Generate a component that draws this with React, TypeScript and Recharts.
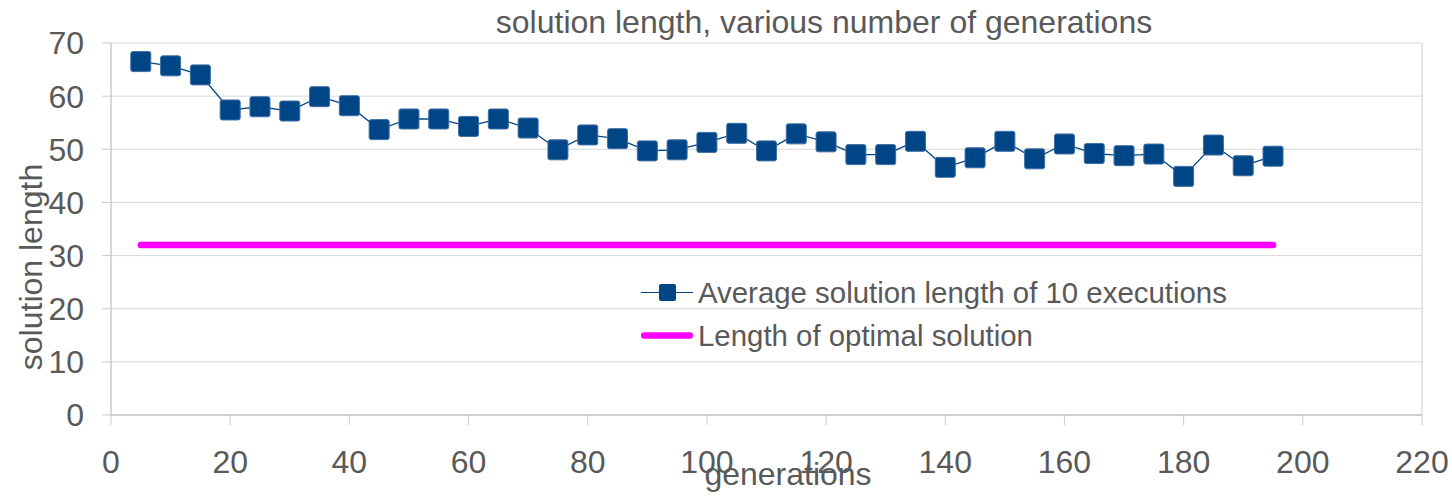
import React from "react";
import { CartesianGrid, Legend, Line, LineChart, ReferenceLine, XAxis, YAxis } from "recharts";

const generations = [
  5, 10, 15, 20, 25, 30, 35, 40, 45, 50, 55, 60, 65, 70, 75, 80, 85, 90, 95, 100,
  105, 110, 115, 120, 125, 130, 135, 140, 145, 150, 155, 160, 165, 170, 175, 180, 185, 190, 195,
];
const avgLength = [
  66.5, 65.7, 64.0, 57.4, 58.0, 57.2, 59.9, 58.2, 53.7, 55.7, 55.7, 54.3, 55.7, 54.0, 49.9, 52.7, 52.0, 49.7, 49.9, 51.3,
  53.0, 49.7, 52.9, 51.4, 49.0, 49.0, 51.5, 46.6, 48.4, 51.5, 48.2, 51.0, 49.2, 48.8, 49.1, 44.9, 50.8, 46.9, 48.7,
];
const optimalX = [5, 195];
const optimalLength = [32, 32];
const xTicks = [0, 20, 40, 60, 80, 100, 120, 140, 160, 180, 200, 220];
const yTicks = [0, 10, 20, 30, 40, 50, 60, 70];
const seriesNames = ["Average solution length of 10 executions", "Length of optimal solution"];

const avgData = generations.map((x, i) => ({ x, y: avgLength[i] }));
const optData = optimalX.map((x, i) => ({ x, y: optimalLength[i] }));

const TEXT = "#595959";
const BLUE = "#004586";
const PINK = "#ff00ff";
const FONT = "'Liberation Sans', Arial, sans-serif";

function SquareDot(props: any) {
  const { cx, cy } = props;
  if (cx == null || cy == null) return null;
  return <rect x={cx - 10} y={cy - 10} width={20} height={20} rx={2} fill={BLUE} stroke="#3d6fa3" strokeWidth={1} />;
}

function LegendBox() {
  const row: React.CSSProperties = { display: "flex", alignItems: "center", height: 43 };
  const label: React.CSSProperties = { fontFamily: FONT, fontSize: 29.4, color: TEXT, marginLeft: 5, whiteSpace: "nowrap" };
  return (
    <div>
      <div style={row}>
        <svg width={52} height={43}>
          <line x1={0} y1={21.5} x2={52} y2={21.5} stroke={BLUE} strokeWidth={1.2} />
          <rect x={18} y={13} width={17} height={17} rx={2} fill={BLUE} />
        </svg>
        <span style={label}>{seriesNames[0]}</span>
      </div>
      <div style={row}>
        <svg width={52} height={43}>
          <line x1={3} y1={21.5} x2={49} y2={21.5} stroke={PINK} strokeWidth={6.5} strokeLinecap="round" />
        </svg>
        <span style={label}>{seriesNames[1]}</span>
      </div>
    </div>
  );
}

export default function App() {
  return (
    <div style={{ position: "absolute", left: 0, top: 0, width: 1452, height: 497, background: "#fff" }}>
      <LineChart width={1452} height={497} margin={{ top: 43, right: 30, bottom: 0, left: 0 }}>
        <CartesianGrid horizontal vertical={false} stroke="#d9d9d9" />
        <XAxis
          type="number"
          dataKey="x"
          domain={[0, 220]}
          ticks={xTicks}
          height={82}
          tickSize={10}
          tickMargin={25}
          axisLine={{ stroke: "#b3b3b3" }}
          tickLine={{ stroke: "#cccccc" }}
          tick={{ fill: TEXT, fontSize: 32, fontFamily: FONT }}
          label={{
            content: () => (
              <text x={788} y={485} textAnchor="middle" fill={TEXT} fontSize={32} fontFamily={FONT}>
                generations
              </text>
            ),
          }}
        />
        <YAxis
          type="number"
          domain={[0, 70]}
          ticks={yTicks}
          width={111}
          tickSize={9}
          tickMargin={18}
          axisLine={{ stroke: "#b3b3b3" }}
          tickLine={{ stroke: "#cccccc" }}
          tick={{ fill: TEXT, fontSize: 32, fontFamily: FONT }}
          label={{
            content: () => (
              <text
                x={42}
                y={267}
                transform="rotate(-90, 42, 267)"
                textAnchor="middle"
                fill={TEXT}
                fontSize={32}
                fontFamily={FONT}
              >
                solution length
              </text>
            ),
          }}
        />
        <ReferenceLine x={220} stroke="#d0d0d0" />
        <Legend
          layout="horizontal"
          verticalAlign="middle"
          align="center"
          content={() => <LegendBox />}
          wrapperStyle={{ left: 641, top: 271, width: 800, height: 86 }}
        />
        <Line
          data={optData}
          dataKey="y"
          name={seriesNames[1]}
          stroke={PINK}
          strokeWidth={6.5}
          strokeLinecap="round"
          dot={false}
          activeDot={false}
          isAnimationActive={false}
        />
        <Line
          data={avgData}
          dataKey="y"
          name={seriesNames[0]}
          stroke={BLUE}
          strokeWidth={1.3}
          dot={<SquareDot />}
          activeDot={false}
          isAnimationActive={false}
        />
      </LineChart>
      <svg width={1452} height={45} style={{ position: "absolute", left: 0, top: 0, pointerEvents: "none" }}>
        <text x={824} y={33} textAnchor="middle" fill={TEXT} fontSize={32} fontFamily={FONT}>
          solution length, various number of generations
        </text>
      </svg>
    </div>
  );
}
